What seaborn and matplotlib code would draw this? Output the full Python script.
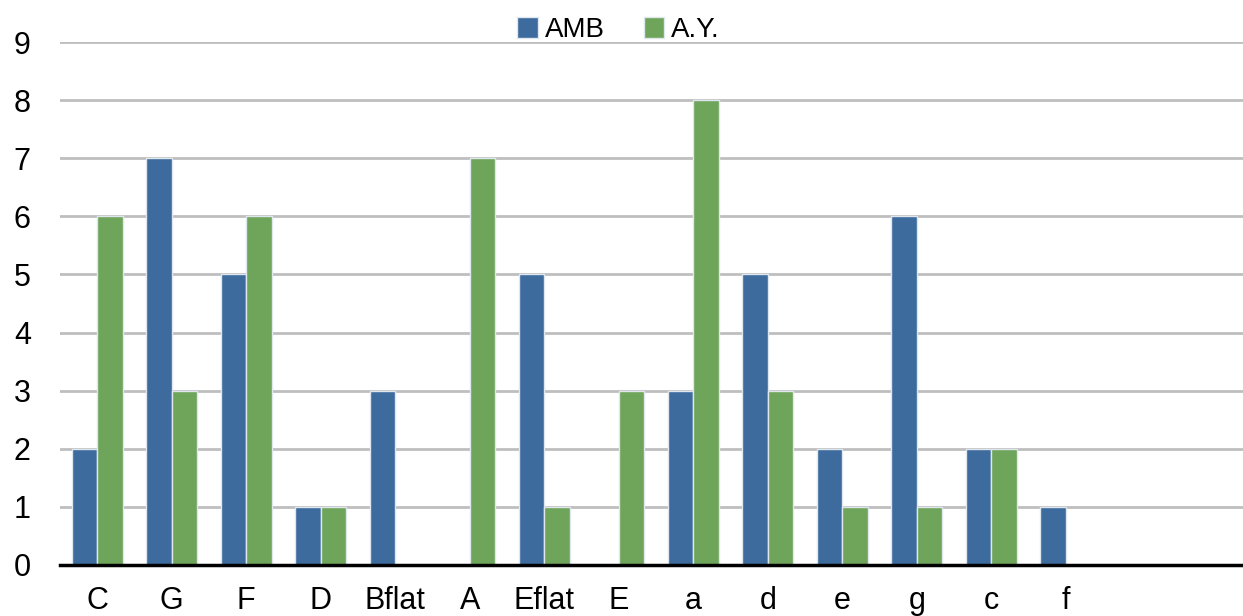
import pandas as pd
import matplotlib.pyplot as plt
import seaborn as sns

keys = ['C', 'G', 'F', 'D', 'Bflat', 'A', 'Eflat', 'E', 'a', 'd', 'e', 'g', 'c', 'f']
amb = [2, 7, 5, 1, 3, 0, 5, 0, 3, 5, 2, 6, 2, 1]
ay = [6, 3, 6, 1, 0, 7, 1, 3, 8, 3, 1, 1, 2, 0]

df = pd.DataFrame({
    'key': keys * 2,
    'count': amb + ay,
    'who': ['AMB'] * len(keys) + ['A.Y.'] * len(keys),
})

sns.set_style('white')
plt.rcParams['font.family'] = ['Liberation Sans', 'DejaVu Sans']
plt.rcParams['text.color'] = 'black'
plt.rcParams['xtick.color'] = 'black'
plt.rcParams['ytick.color'] = 'black'

fig = plt.figure(figsize=(12.43, 6.16), dpi=100)
ax = fig.add_axes([60 / 1243, 51 / 616, 1 - 60 / 1243, (565 - 42) / 616])

sns.barplot(data=df, x='key', y='count', hue='who', order=keys,
            palette={'AMB': '#3d6b9e', 'A.Y.': '#6ea55a'}, saturation=1,
            width=0.68, edgecolor='#dfe6ee', linewidth=1, ax=ax)

ax.set_xlim(-0.5, 15.38)
ax.set_ylim(0, 9)
ax.set_yticks(range(10))
ax.yaxis.grid(True, color='#bebebe', linewidth=2)
ax.set_axisbelow(True)
for s in ['top', 'right', 'left']:
    ax.spines[s].set_visible(False)
ax.spines['bottom'].set_color('black')
ax.spines['bottom'].set_linewidth(2.5)
ax.tick_params(axis='both', length=0, labelsize=22)
ax.tick_params(axis='x', pad=15)
ax.tick_params(axis='y', pad=21)
ax.set_xlabel('')
ax.set_ylabel('')

leg = ax.legend(loc='upper center', bbox_to_anchor=(0.472, 1.095), ncol=2, frameon=False,
                fontsize=20, handlelength=0.75, handleheight=0.75, handletextpad=0.25,
                columnspacing=1.4)

fig.savefig('out.png', dpi=100)
